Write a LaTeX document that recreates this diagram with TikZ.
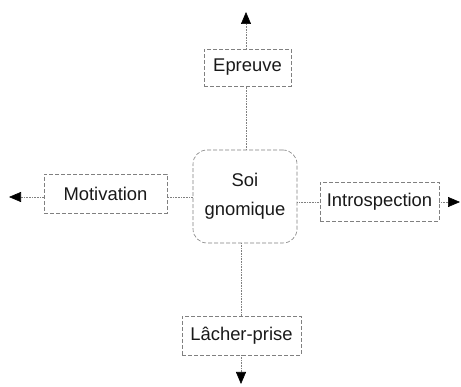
\documentclass[tikz,border=0pt]{standalone}
\usepackage{fontspec}
\setmainfont{Liberation Sans}
\usetikzlibrary{arrows.meta}
\begin{document}
\begin{tikzpicture}[x=1pt,y=-1pt,
  box/.style={draw=black!50, dash pattern=on 4pt off 2pt, line width=0.6pt, inner sep=0pt,
    text=black!90, font=\fontsize{18.4}{20}\selectfont},
  link/.style={draw=black!50, densely dotted, line width=0.6pt},
  out arrow/.style={link, -{Triangle[length=12pt,width=10pt,color=black]}}]
  \useasboundingbox (0,0) rectangle (461,387);

  % central concept
  \node[box, rounded corners=14pt, minimum width=104pt, minimum height=93pt,
        align=center, font=\fontsize{18.4}{29}\selectfont] (soi) at (245,196.5) {Soi\\gnomique};

  % four surrounding notions
  \node[box, minimum width=87pt, minimum height=37pt] (epr) at (247.5,67.5) {Epreuve};
  \node[box, minimum width=123pt, minimum height=39pt] (mot) at (105.5,193.5) {Motivation};
  \node[box, minimum width=119pt, minimum height=39pt] (int) at (379.5,201.5) {Introspection};
  \node[box, minimum width=119pt, minimum height=39pt] (lac) at (241.5,335.5) {Lâcher-prise};

  % free ends of the outgoing arrows
  \coordinate (eprTip) at (246,12);
  \coordinate (motTip) at (9,197);
  \coordinate (intTip) at (460,202);
  \coordinate (lacTip) at (241,384);

  % links from the centre
  \draw[link] (soi.north -| eprTip) -- (epr.south -| eprTip);
  \draw[link] (soi.west |- motTip) -- (mot.east |- motTip);
  \draw[link] (soi.east |- intTip) -- (int.west |- intTip);
  \draw[link] (soi.south -| lacTip) -- (lac.north -| lacTip);

  % outgoing arrows
  \draw[out arrow] (epr.north -| eprTip) -- (eprTip);
  \draw[out arrow] (mot.west |- motTip) -- (motTip);
  \draw[out arrow] (int.east |- intTip) -- (intTip);
  \draw[out arrow] (lac.south -| lacTip) -- (lacTip);
\end{tikzpicture}
\end{document}
